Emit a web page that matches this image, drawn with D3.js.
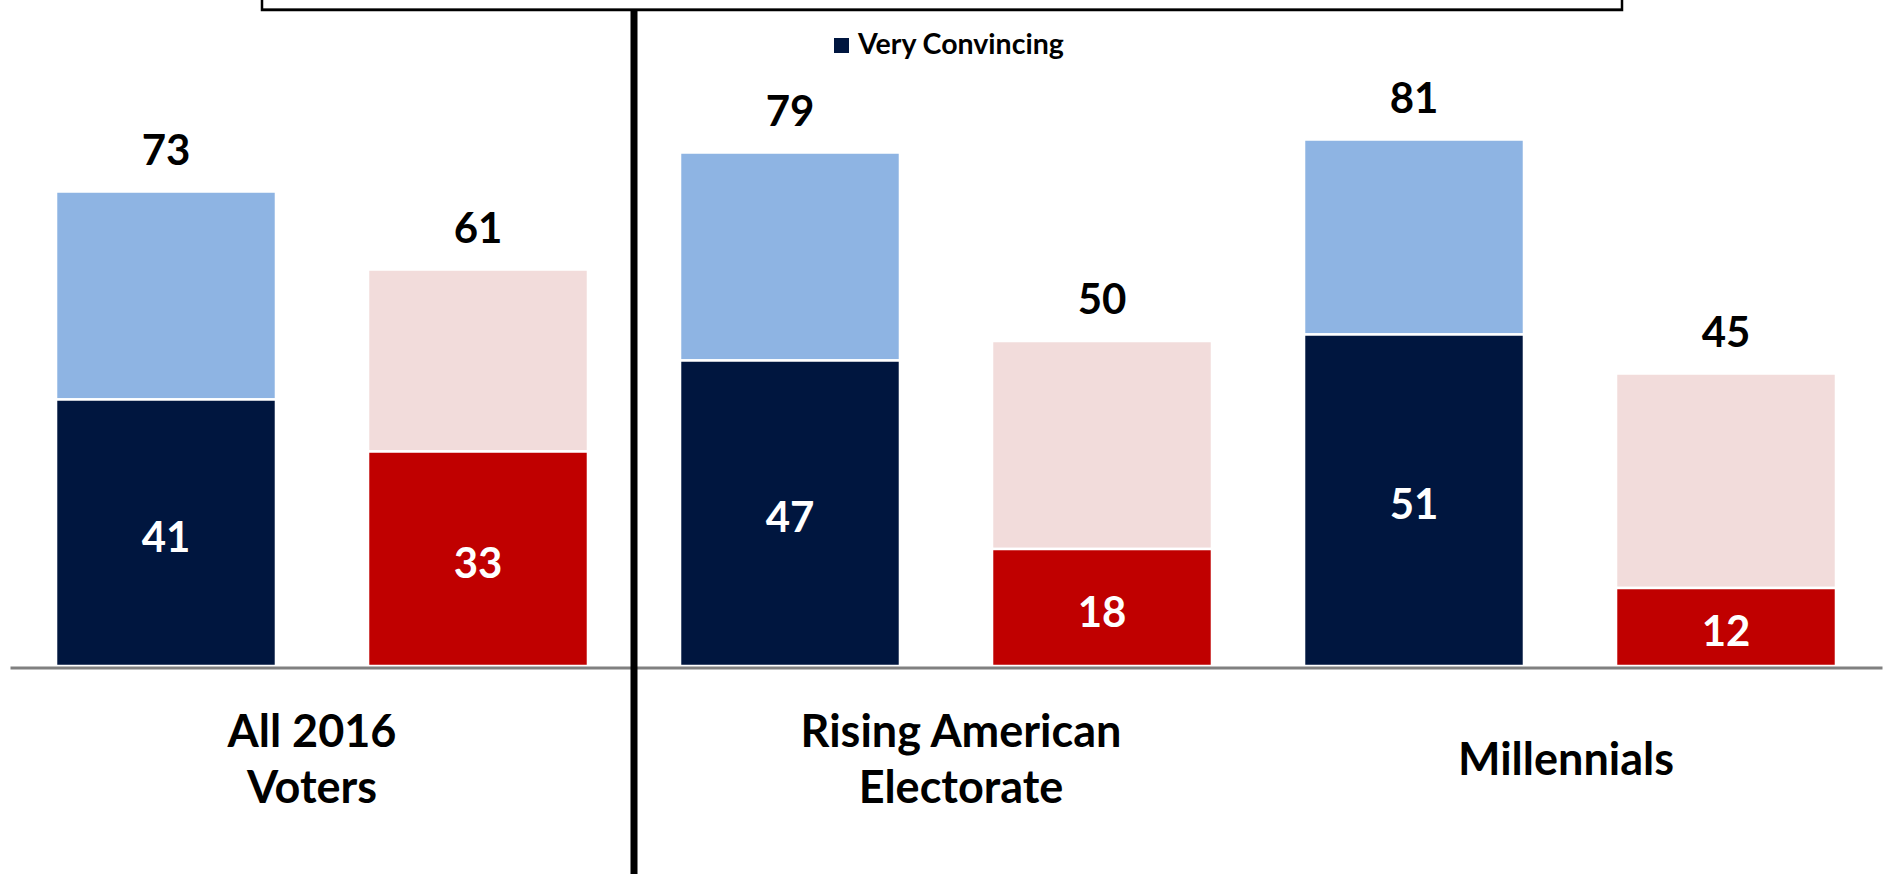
<!DOCTYPE html>
<html>
<head>
<meta charset="utf-8">
<script src="https://cdn.jsdelivr.net/npm/d3@7"></script>
<style>
  html, body { margin: 0; padding: 0; background: #fff; }
  svg { display: block; }
  text { font-family: Lato, "Open Sans", "Noto Sans", sans-serif; font-weight: 700; }
</style>
</head>
<body>
<svg id="chart" width="1884" height="874"></svg>
<script>
// ---- data ----
const categories = ["All 2016 Voters", "Rising American Electorate", "Millennials"];
const categoryLines = [["All 2016", "Voters"], ["Rising American", "Electorate"], ["Millennials"]];
const series = ["blue", "red"];
const blueTotal = [73, 79, 81];        // total convincing (light blue bar)
const blueVery = [41, 47, 51];         // very convincing (dark navy)
const redTotal = [61, 50, 45];         // total convincing (light pink bar)
const redVery = [33, 18, 12];          // very convincing (red)
const legendLabels = ["Very Convincing"];

// ---- layout ----
const W = 1884, H = 874;
const baseY = 666;
const svg = d3.select("#chart");

const y = d3.scaleLinear().domain([0, 100]).range([baseY, 16]);
const x0 = d3.scaleBand().domain(categories).range([10, 1882]).paddingInner(0).paddingOuter(0);
const x1 = d3.scaleBand().domain(series).range([0, x0.bandwidth()]).paddingInner(0.295).paddingOuter(0.1475);

const colors = {
  blue: { total: "#8EB4E3", very: "#00163F" },
  red: { total: "#F2DCDB", very: "#C00000" }
};

const rows = categories.map((c, i) => ({
  cat: c,
  bars: [
    { s: "blue", total: blueTotal[i], very: blueVery[i] },
    { s: "red", total: redTotal[i], very: redVery[i] }
  ]
}));

// top box
svg.append("line").attr("x1", 262).attr("x2", 1622).attr("y1", 8.5).attr("y2", 8.5)
  .attr("stroke", "#777").attr("stroke-width", 1);
svg.append("rect").attr("x", 262).attr("y", -20).attr("width", 1360).attr("height", 30)
  .attr("fill", "none").attr("stroke", "#000").attr("stroke-width", 2.5);

const g = svg.append("g");
const groups = g.selectAll("g.grp").data(rows).enter().append("g")
  .attr("transform", d => `translate(${x0(d.cat)},0)`);

const bars = groups.selectAll("g.bar").data(d => d.bars).enter().append("g");

// light (total) segment
bars.append("rect")
  .attr("x", d => x1(d.s))
  .attr("width", x1.bandwidth())
  .attr("y", d => y(d.total))
  .attr("height", d => y(d.very) - y(d.total))
  .attr("fill", d => colors[d.s].total)
  .attr("stroke", "#fff").attr("stroke-width", 2.5);

// dark (very) segment
bars.append("rect")
  .attr("x", d => x1(d.s))
  .attr("width", x1.bandwidth())
  .attr("y", d => y(d.very))
  .attr("height", d => baseY - y(d.very))
  .attr("fill", d => colors[d.s].very)
  .attr("stroke", "#fff").attr("stroke-width", 2.5);

// total labels
bars.append("text")
  .attr("x", d => x1(d.s) + x1.bandwidth() / 2)
  .attr("y", d => y(d.total) - 27)
  .attr("text-anchor", "middle")
  .attr("font-size", 42)
  .attr("fill", "#000")
  .text(d => d.total);

// very labels
bars.append("text")
  .attr("x", d => x1(d.s) + x1.bandwidth() / 2)
  .attr("y", d => (y(d.very) + baseY) / 2 + 3)
  .attr("dominant-baseline", "central")
  .attr("text-anchor", "middle")
  .attr("font-size", 42)
  .attr("fill", "#fff")
  .text(d => d.very);

// axis baseline
const xAxis = d3.axisBottom(x0).tickSize(0).tickFormat("");
const ax = svg.append("g").attr("transform", `translate(0,${baseY + 1.5})`).call(xAxis);
ax.select(".domain").attr("stroke", "#808080").attr("stroke-width", 3);

// category labels
const labelBaselines = { 2: [747, 803], 1: [775] };
const labelDx = [-10, 15, -4];
categories.forEach((c, i) => {
  const lines = categoryLines[i];
  const t = svg.append("text")
    .attr("text-anchor", "middle")
    .attr("font-size", 45)
    .attr("fill", "#000");
  lines.forEach((ln, j) => {
    t.append("tspan")
      .attr("x", x0(c) + x0.bandwidth() / 2 + labelDx[i])
      .attr("y", labelBaselines[lines.length][j])
      .text(ln);
  });
});

// vertical divider
svg.append("line")
  .attr("x1", x0(categories[1])).attr("x2", x0(categories[1]))
  .attr("y1", 11).attr("y2", H)
  .attr("stroke", "#000").attr("stroke-width", 7);

// legend
const lg = svg.append("g").attr("transform", "translate(834,38)");
lg.append("rect").attr("width", 15).attr("height", 15).attr("fill", colors.blue.very);
lg.append("text").attr("x", 24).attr("y", 16).attr("font-size", 28.5).attr("fill", "#000")
  .text(legendLabels[0]);
</script>
</body>
</html>
